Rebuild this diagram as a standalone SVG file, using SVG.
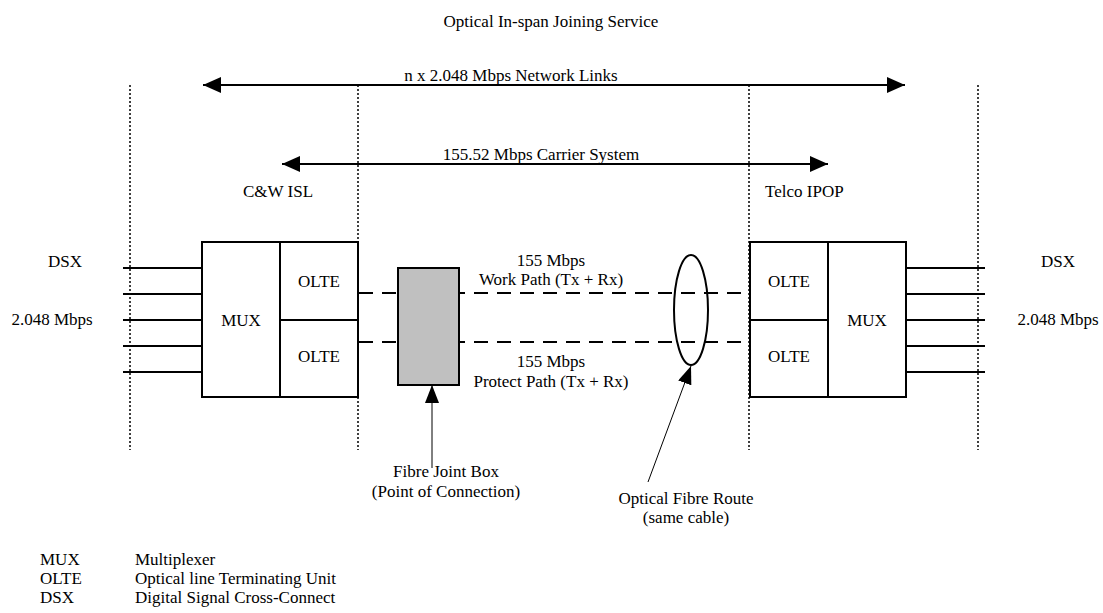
<svg xmlns="http://www.w3.org/2000/svg" width="1103" height="613" viewBox="0 0 1103 613">
<defs>
<style>
text{font-family:"Liberation Serif","Times New Roman",serif;font-size:17px;fill:#000}
.mid{text-anchor:middle}
.box{fill:#fff;stroke:#000;stroke-width:2}
.ln{stroke:#000;stroke-width:2;fill:none}
.thin{stroke:#000;stroke-width:1;fill:none}
.dot{stroke:#000;stroke-width:1.5;stroke-dasharray:2 2;fill:none}
.dash{stroke:#000;stroke-width:2;stroke-dasharray:14 9;fill:none}
</style>
<marker id="ah" viewBox="0 0 18 16" refX="18" refY="8" markerWidth="18" markerHeight="16" markerUnits="userSpaceOnUse" orient="auto-start-reverse">
<path d="M0,0 L18,8 L0,16 Z" fill="#000"/>
</marker>
<marker id="ah2" viewBox="0 0 18 14" refX="18" refY="7" markerWidth="18" markerHeight="14" markerUnits="userSpaceOnUse" orient="auto">
<path d="M0,0 L18,7 L0,14 Z" fill="#000"/>
</marker>
</defs>
<text id="title" class="mid" x="551" y="27">Optical In-span Joining Service</text>
<g id="boundaries">
<line class="dot" x1="130" y1="85" x2="130" y2="450"/>
<line class="dot" x1="358" y1="85" x2="358" y2="450"/>
<line class="dot" x1="749" y1="85" x2="749" y2="450"/>
<line class="dot" x1="978" y1="85" x2="978" y2="450"/>
</g>
<g id="connectors">
<line class="ln" x1="203" y1="85" x2="905" y2="85" marker-start="url(#ah)" marker-end="url(#ah)"/>
<line class="ln" x1="282" y1="164" x2="828" y2="164" marker-start="url(#ah)" marker-end="url(#ah)"/>
<line class="ln" x1="123" y1="268" x2="202" y2="268"/>
<line class="ln" x1="123" y1="294" x2="202" y2="294"/>
<line class="ln" x1="123" y1="320" x2="202" y2="320"/>
<line class="ln" x1="123" y1="346" x2="202" y2="346"/>
<line class="ln" x1="123" y1="372" x2="202" y2="372"/>
<line class="ln" x1="906" y1="268" x2="985" y2="268"/>
<line class="ln" x1="906" y1="294" x2="985" y2="294"/>
<line class="ln" x1="906" y1="320" x2="985" y2="320"/>
<line class="ln" x1="906" y1="346" x2="985" y2="346"/>
<line class="ln" x1="906" y1="372" x2="985" y2="372"/>
<line class="dash" x1="359" y1="293" x2="749" y2="293"/>
<line class="dash" x1="359" y1="342" x2="749" y2="342"/>
<line class="thin" x1="432" y1="468" x2="432" y2="385" marker-end="url(#ah2)"/>
<line class="thin" x1="648" y1="482" x2="691" y2="366" marker-end="url(#ah2)"/>
</g>
<g id="left-mux">
<rect class="box" x="202" y="242" width="78" height="155"/>
<text class="mid" x="241" y="326">MUX</text>
</g>
<g id="left-olte-top">
<rect class="box" x="280" y="242" width="78" height="78"/>
<text class="mid" x="319" y="287">OLTE</text>
</g>
<g id="left-olte-bottom">
<rect class="box" x="280" y="320" width="78" height="77"/>
<text class="mid" x="319" y="362">OLTE</text>
</g>
<g id="right-olte-top">
<rect class="box" x="750" y="242" width="78" height="78"/>
<text class="mid" x="789" y="287">OLTE</text>
</g>
<g id="right-olte-bottom">
<rect class="box" x="750" y="320" width="78" height="77"/>
<text class="mid" x="789" y="362">OLTE</text>
</g>
<g id="right-mux">
<rect class="box" x="828" y="242" width="78" height="155"/>
<text class="mid" x="867" y="326">MUX</text>
</g>
<g id="joint-box">
<rect x="398" y="268" width="61" height="117" fill="#c0c0c0" stroke="#000" stroke-width="2"/>
</g>
<g id="fibre-route">
<ellipse cx="691" cy="310" rx="17" ry="55" fill="none" stroke="#000" stroke-width="2"/>
</g>
<g id="labels">
<text class="mid" x="511" y="81">n x 2.048 Mbps Network Links</text>
<text class="mid" x="541" y="160">155.52 Mbps Carrier System</text>
<text x="243" y="197">C&amp;W ISL</text>
<text x="765" y="197">Telco IPOP</text>
<text class="mid" x="65" y="267">DSX</text>
<text class="mid" x="52" y="325">2.048 Mbps</text>
<text class="mid" x="1058" y="267">DSX</text>
<text class="mid" x="1058" y="325">2.048 Mbps</text>
<text class="mid" x="551" y="266">155 Mbps</text>
<text class="mid" x="551" y="285">Work Path (Tx + Rx)</text>
<text class="mid" x="551" y="367">155 Mbps</text>
<text class="mid" x="551" y="387">Protect Path (Tx + Rx)</text>
<text class="mid" x="446" y="477">Fibre Joint Box</text>
<text class="mid" x="446" y="497">(Point of Connection)</text>
<text class="mid" x="686" y="504">Optical Fibre Route</text>
<text class="mid" x="686" y="523">(same cable)</text>
</g>
<g id="legend">
<text x="40" y="565">MUX</text><text x="135" y="565">Multiplexer</text>
<text x="40" y="584">OLTE</text><text x="135" y="584">Optical line Terminating Unit</text>
<text x="40" y="603">DSX</text><text x="135" y="603">Digital Signal Cross-Connect</text>
</g>
</svg>
